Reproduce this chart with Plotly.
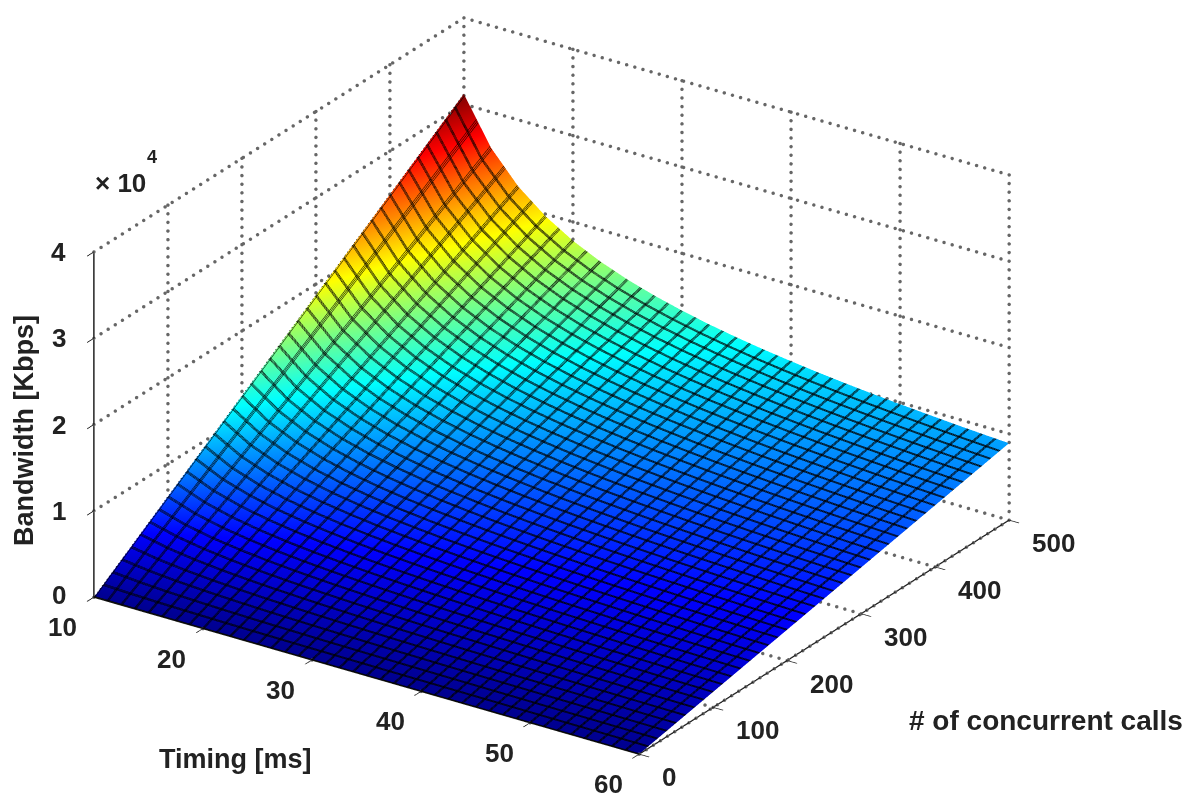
import numpy as np
import plotly.graph_objects as go

timing = [10, 12.5, 15, 17.5, 20, 22.5, 25, 27.5, 30, 32.5, 35, 37.5, 40, 42.5, 45, 47.5, 50, 52.5, 55, 57.5, 60]
calls = [0, 50, 100, 150, 200, 250, 300, 350, 400, 450, 500]
# bandwidth [Kbps]: one row per timing value, one column per call count
bandwidth_by_timing = [
    [0, 3120, 6240, 9360, 12480, 15600, 18720, 21840, 24960, 28080, 31200],
    [0, 2585, 5170, 7755, 10340, 12925, 15510, 18095, 20680, 23265, 25850],
    [0, 2228, 4456, 6684, 8912, 11140, 13368, 15596, 17824, 20052, 22280],
    [0, 1974, 3948, 5922, 7896, 9870, 11844, 13818, 15792, 17766, 19740],
    [0, 1783, 3566, 5349, 7132, 8915, 10698, 12481, 14264, 16047, 17830],
    [0, 1634, 3268, 4902, 6536, 8170, 9804, 11438, 13072, 14706, 16340],
    [0, 1515, 3030, 4545, 6060, 7575, 9090, 10605, 12120, 13635, 15150],
    [0, 1418, 2836, 4254, 5672, 7090, 8508, 9926, 11344, 12762, 14180],
    [0, 1337, 2674, 4011, 5348, 6685, 8022, 9359, 10696, 12033, 13370],
    [0, 1268, 2536, 3804, 5072, 6340, 7608, 8876, 10144, 11412, 12680],
    [0, 1209, 2418, 3627, 4836, 6045, 7254, 8463, 9672, 10881, 12090],
    [0, 1158, 2316, 3474, 4632, 5790, 6948, 8106, 9264, 10422, 11580],
    [0, 1114, 2228, 3342, 4456, 5570, 6684, 7798, 8912, 10026, 11140],
    [0, 1074, 2148, 3222, 4296, 5370, 6444, 7518, 8592, 9666, 10740],
    [0, 1039, 2078, 3117, 4156, 5195, 6234, 7273, 8312, 9351, 10390],
    [0, 1008, 2016, 3024, 4032, 5040, 6048, 7056, 8064, 9072, 10080],
    [0, 980, 1960, 2940, 3920, 4900, 5880, 6860, 7840, 8820, 9800],
    [0, 955, 1910, 2865, 3820, 4775, 5730, 6685, 7640, 8595, 9550],
    [0, 931, 1862, 2793, 3724, 4655, 5586, 6517, 7448, 8379, 9310],
    [0, 910, 1820, 2730, 3640, 4550, 5460, 6370, 7280, 8190, 9100],
    [0, 891, 1782, 2673, 3564, 4455, 5346, 6237, 7128, 8019, 8910],
]
timing_ticks = [10, 20, 30, 40, 50, 60]
calls_ticks = [0, 100, 200, 300, 400, 500]
z_ticks = [0, 10000, 20000, 30000, 40000]
z_labels = ["0", "1", "2", "3", "4"]

FONT = "Liberation Sans"
INK = "#222"
W, H = 1187, 790   # the page adds an 8 px body margin
jet = [[0, "rgb(0,0,143)"], [0.125, "rgb(0,0,255)"], [0.375, "rgb(0,255,255)"],
       [0.625, "rgb(255,255,0)"], [0.875, "rgb(255,0,0)"], [1, "rgb(128,0,0)"]]

z_by_calls = [list(r) for r in zip(*bandwidth_by_timing)]

fig = go.Figure()
# WebGL draws contour lines 1 px wide, so the mesh is thickened by repeating it a pixel apart
for k, (dt, dc) in enumerate([(0, 0), (0.08, 0.8), (-0.08, -0.8)]):
    fig.add_trace(go.Surface(
        x=timing, y=calls, z=z_by_calls, colorscale=jet, cmin=0, cmax=31200, showscale=False,
        lighting=dict(ambient=1, diffuse=0, specular=0, roughness=1, fresnel=0),
        hidesurface=k > 0,
        contours=dict(
            x=dict(show=True, start=10 + dt, end=60 + dt, size=1.25, color="#000", width=2),
            y=dict(show=True, start=0 + dc, end=500 + dc, size=12.5, color="#000", width=2),
        ),
    ))

# dotted MATLAB-style grid on the box walls and the floor
gx, gy, gz = [], [], []
def dotted(p, q, n):
    s = np.linspace(0, 1, n + 1)
    gx.extend(p[0] + (q[0] - p[0]) * s)
    gy.extend(p[1] + (q[1] - p[1]) * s)
    gz.extend(p[2] + (q[2] - p[2]) * s)

top = z_ticks[-1]
for c in calls_ticks[1:]:
    dotted((10, c, 0), (10, c, top), 40)
    dotted((10, c, 0), (60, c, 0), 67)
for t in timing_ticks[1:]:
    dotted((t, 500, 0), (t, 500, top), 40)
    dotted((t, 0, 0), (t, 500, 0), 52)
for z in z_ticks:
    dotted((10, 0, z), (10, 500, z), 52)
    dotted((10, 500, z), (60, 500, z), 67)
fig.add_trace(go.Scatter3d(x=gx, y=gy, z=gz, mode="markers", hoverinfo="skip", showlegend=False,
                           marker=dict(size=2, color="#666")))

common = dict(showgrid=False, showbackground=False, zeroline=False, showspikes=False, title=dict(text=""),
              showline=True, linecolor=INK, linewidth=3, ticks="outside", tickcolor=INK, ticklen=12, tickwidth=2,
              showticklabels=False)

tick_font = dict(family=FONT, size=26, color=INK, weight="bold")
scene_notes = []
for t in timing_ticks:
    scene_notes.append(dict(x=t, y=0, z=0, text=str(t), xshift=-31, yshift=-30,
                            xanchor="center", yanchor="middle"))
for c in calls_ticks:
    scene_notes.append(dict(x=60, y=c, z=0, text=str(c), xshift=21, yshift=-23,
                            xanchor="left", yanchor="middle"))
for z, lab in zip(z_ticks, z_labels):
    scene_notes.append(dict(x=10, y=0, z=z, text=lab, xshift=-26, yshift=2 if z == 0 else 0,
                            xanchor="right", yanchor="middle"))
for n in scene_notes:
    n.update(showarrow=False, font=tick_font)

title_font = dict(family=FONT, size=27, color=INK, weight="bold")
def note(text, x, y, **kw):
    return dict(text=text, x=(x - 8) / W, y=1 - (y - 8) / H, xref="paper", yref="paper", showarrow=False,
                xanchor="center", yanchor="middle", **{"font": title_font, **kw})

fig.update_layout(
    width=W, height=H, margin=dict(l=0, r=0, t=0, b=0), paper_bgcolor="white",
    showlegend=False,
    scene=dict(
        domain=dict(x=[0, 0.9157], y=[0.043, 1]),
        aspectmode="manual", aspectratio=dict(x=1.74, y=1.75, z=1.01),
        camera=dict(projection=dict(type="orthographic"), up=dict(x=0, y=0, z=1),
                    center=dict(x=0, y=0, z=0),
                    eye=dict(x=0.506 * 1.5, y=-0.750 * 1.5, z=0.427 * 1.5)),
        xaxis=dict(common, range=[10, 60], tickvals=timing_ticks),
        yaxis=dict(common, range=[0, 500], tickvals=calls_ticks),
        zaxis=dict(common, range=[0, 40000], tickvals=z_ticks),
        annotations=scene_notes,
    ),
    annotations=[
        note("Timing [ms]", 235, 759),
        note("# of concurrent calls", 1046, 720, font=dict(family=FONT, size=28, color=INK, weight="bold")),
        note("Bandwidth [Kbps]", 24, 431, textangle=-90),
        note("× 10", 120, 183, font=dict(family=FONT, size=26, color=INK, weight="bold")),
        note("4", 152, 157, font=dict(family=FONT, size=18, color=INK, weight="bold")),
    ],
)

fig.write_html("out.html")
